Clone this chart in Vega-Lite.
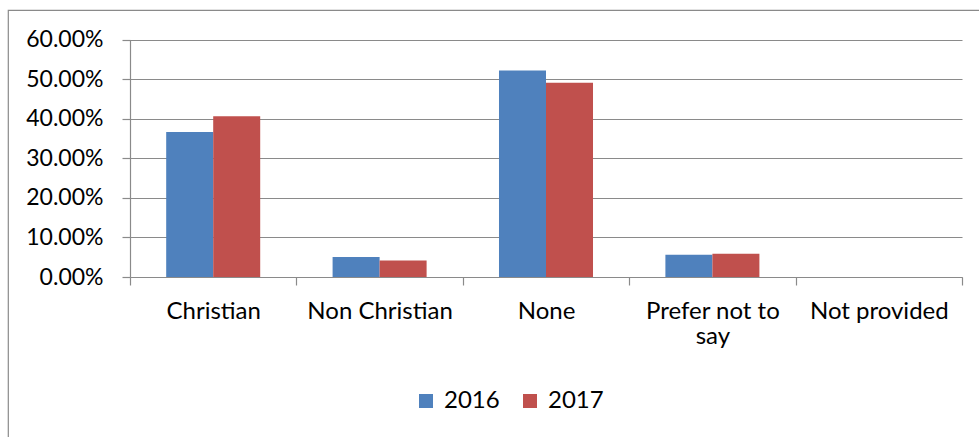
{
  "$schema": "https://vega.github.io/schema/vega-lite/v6.json",
  "width": 973,
  "height": 429,
  "autosize": {"type": "none"},
  "padding": {"left": 8, "top": 10, "right": -2, "bottom": -2},
  "background": "white",
  "config": {
    "view": {"stroke": "#8a8a8a", "strokeWidth": 1.2},
    "font": "Lato",
    "axis": {"labelFont": "Lato", "labelColor": "#000000"},
    "legend": {"labelFont": "Lato", "labelColor": "#000000"}
  },
  "data": {
    "values": [
      {"religion": "Christian", "year": "2016", "share": 0.3666},
      {"religion": "Christian", "year": "2017", "share": 0.406},
      {"religion": "Non Christian", "year": "2016", "share": 0.0506},
      {"religion": "Non Christian", "year": "2017", "share": 0.042},
      {"religion": "None", "year": "2016", "share": 0.522},
      {"religion": "None", "year": "2017", "share": 0.491},
      {"religion": "Prefer not to say", "year": "2016", "share": 0.0565},
      {"religion": "Prefer not to say", "year": "2017", "share": 0.059},
      {"religion": "Not provided", "year": "2016", "share": 0},
      {"religion": "Not provided", "year": "2017", "share": 0}
    ]
  },
  "mark": {"type": "bar"},
  "encoding": {
    "x": {
      "field": "religion",
      "type": "nominal",
      "sort": ["Christian", "Non Christian", "None", "Prefer not to say", "Not provided"],
      "scale": {"range": [122, 954], "paddingInner": 0, "paddingOuter": 0},
      "axis": {
        "title": null,
        "orient": "bottom",
        "offset": -162,
        "labelAngle": 0,
        "tickBand": "extent",
        "tickSize": 8,
        "tickColor": "#8a8a8a",
        "tickWidth": 1.2,
        "domainColor": "#8a8a8a",
        "domainWidth": 1.2,
        "labelFontSize": 24,
        "labelPadding": 14,
        "labelLineHeight": 25,
        "labelLimit": 300,
        "labelExpr": "datum.value == 'Prefer not to say' ? ['Prefer not to', 'say'] : datum.value",
        "grid": false
      }
    },
    "xOffset": {
      "field": "year",
      "type": "nominal",
      "scale": {"paddingInner": 0, "paddingOuter": 0.77}
    },
    "y": {
      "field": "share",
      "type": "quantitative",
      "scale": {"domain": [0, 0.6], "range": [267, 29.5], "nice": false},
      "axis": {
        "title": null,
        "offset": -122,
        "format": ".2%",
        "values": [0, 0.1, 0.2, 0.3, 0.4, 0.5, 0.6],
        "tickSize": 8,
        "tickColor": "#8a8a8a",
        "tickWidth": 1.2,
        "domainColor": "#8a8a8a",
        "domainWidth": 1.2,
        "gridColor": "#8a8a8a",
        "gridWidth": 1.2,
        "grid": true,
        "labelFontSize": 23,
        "labelPadding": 19
      }
    },
    "color": {
      "field": "year",
      "type": "nominal",
      "scale": {"domain": ["2016", "2017"], "range": ["#4F81BD", "#C0504D"]},
      "legend": {
        "title": null,
        "orient": "none",
        "direction": "horizontal",
        "legendX": 406,
        "legendY": 379,
        "symbolType": "square",
        "symbolSize": 196,
        "symbolStrokeWidth": 0,
        "labelFontSize": 24,
        "labelOffset": 6,
        "columnPadding": 18
      }
    }
  }
}
